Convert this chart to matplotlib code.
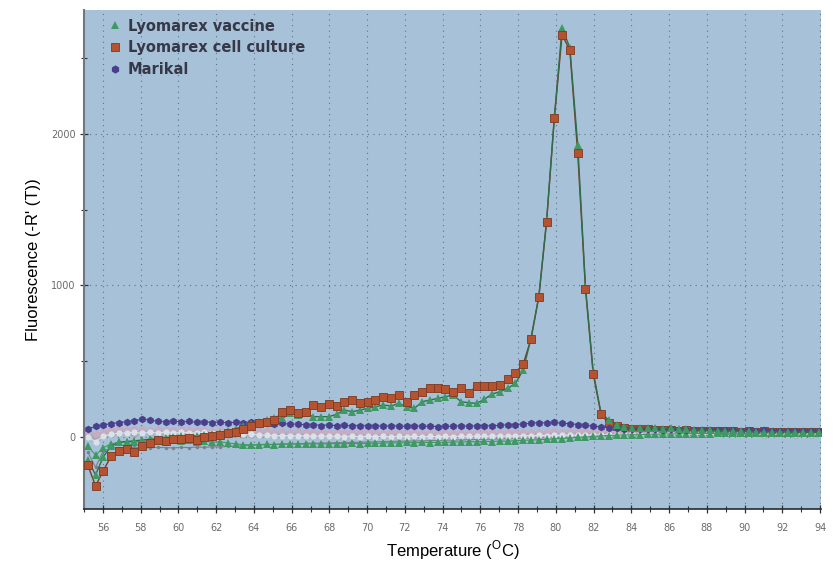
import numpy as np
import matplotlib
matplotlib.use("Agg")
import matplotlib.pyplot as plt
from matplotlib.lines import Line2D
from matplotlib.ticker import MultipleLocator

plt.rcParams['mathtext.fontset'] = 'custom'
plt.rcParams['mathtext.rm'] = 'Liberation Sans'

# Temperature grid (deg C), one reading every ~0.41 deg
temps = np.round(55.2 + 0.412 * np.arange(95), 2)

vaccine = [-150, -250, -130, -60, -35, -30, -25, -20, -15, -10,
           -5, 0, 5, 0, 10, 15, 20, 25, 40, 55,
           70, 85, 101, 112, 123, 123, 156, 145, 156, 134,
           134, 134, 150, 178, 167, 178, 189, 200, 211, 205,
           222, 200, 189, 233, 244, 255, 266, 277, 233, 226,
           222, 249, 284, 299, 321, 354, 442, 650, 930, 1430,
           2110, 2700, 2570, 1927, 990, 430, 160, 112, 80, 65,
           60, 62, 58, 60, 55, 57, 52, 50, 48, 45,
           44, 42, 40, 40, 38, 37, 36, 35, 35, 34,
           33, 32, 32, 31, 30]

cell_culture = [-185, -323, -222, -125, -90, -80, -97, -60, -40, -20,
                -25, -15, -10, -5, -20, 0, 5, 15, 25, 35,
                50, 70, 90, 100, 112, 167, 178, 160, 167, 211,
                200, 218, 205, 233, 244, 225, 233, 245, 266, 255,
                277, 233, 277, 300, 321, 321, 317, 297, 323, 290,
                337, 337, 337, 343, 380, 424, 482, 645, 926, 1421,
                2104, 2654, 2554, 1872, 975, 416, 152, 90, 70, 60,
                55, 50, 52, 48, 45, 47, 42, 44, 40, 42,
                38, 40, 37, 39, 36, 38, 35, 37, 34, 36,
                33, 35, 32, 34, 30]

marikal = [55, 70, 80, 88, 95, 100, 105, 120, 110, 105,
           100, 108, 98, 104, 96, 102, 95, 100, 92, 98,
           95, 100, 94, 92, 88, 90, 84, 86, 80, 82,
           76, 80, 74, 78, 72, 76, 72, 74, 70, 74,
           72, 70, 74, 70, 72, 68, 72, 70, 74, 70,
           74, 76, 72, 78, 80, 82, 86, 90, 95, 92,
           96, 90, 88, 82, 78, 72, 66, 62, 58, 55,
           52, 54, 50, 52, 48, 50, 47, 49, 46, 48,
           45, 47, 44, 46, 43, 45, 42, 44, 41, 43,
           40, 42, 39, 41, 38]

vaccine_low = [-60, -120, -70, -45, -35, -30, -35, -25, -30, -25,
               -30, -20, -25, -20, -30, -25, -35, -30, -40, -45,
               -50, -52, -50, -48, -50, -46, -48, -45, -47, -44,
               -46, -45, -43, -45, -42, -44, -40, -42, -40, -38,
               -40, -36, -38, -35, -37, -34, -36, -32, -34, -30,
               -32, -28, -30, -26, -28, -24, -22, -20, -18, -15,
               -12, -10, -6, -2, 0, 4, 8, 10, 12, 14,
               15, 16, 18, 18, 20, 20, 21, 22, 22, 23,
               23, 24, 24, 25, 25, 25, 26, 26, 26, 27,
               27, 27, 28, 28, 28]

ctrl_gray = [20, -10, 15, 25, 30, 32, 28, 34, 30, 35,
             28, 32, 30, 26, 30, 28, 24, 28, 22, 25,
             20, 22, 18, 20, 16, 18, 14, 18, 12, 16,
             14, 12, 16, 10, 14, 12, 10, 14, 12, 10,
             14, 12, 10, 14, 12, 14, 10, 14, 12, 15,
             12, 16, 14, 16, 14, 18, 16, 18, 20, 18,
             22, 20, 24, 22, 24, 22, 26, 24, 26, 24,
             28, 25, 27, 24, 28, 26, 25, 27, 24, 28,
             26, 25, 27, 24, 26, 25, 27, 23, 26, 24,
             25, 23, 25, 22, 24]

ctrl_pink = [30, 20, 35, 45, 50, 48, 52, 50, 46, 50,
             48, 45, 50, 46, 44, 48, 42, 45, 40, 44,
             40, 42, 38, 40, 36, 38, 35, 37, 33, 36,
             32, 35, 31, 34, 30, 33, 30, 32, 29, 32,
             30, 28, 31, 28, 30, 27, 30, 28, 31, 28,
             32, 30, 33, 31, 34, 32, 35, 33, 36, 34,
             38, 36, 40, 38, 42, 40, 38, 36, 35, 34,
             36, 33, 35, 32, 34, 33, 35, 32, 34, 31,
             33, 32, 34, 31, 33, 30, 32, 31, 33, 30,
             32, 29, 31, 30, 28]

ctrl_white = [0, -30, 5, 20, 25, 28, 30, 26, 30, 28,
              32, 26, 30, 28, 26, 30, 24, 28, 22, 25,
              20, 18, 15, 12, 10, 8, 10, 6, 8, 5,
              8, 4, 6, 3, 6, 2, 5, 2, 4, 1,
              4, 2, 5, 2, 4, 2, 5, 3, 6, 4,
              6, 5, 8, 6, 8, 7, 10, 8, 11, 10,
              12, 11, 13, 12, 14, 13, 15, 14, 16, 15,
              17, 16, 18, 17, 18, 17, 19, 18, 19, 18,
              20, 19, 20, 19, 21, 20, 21, 20, 22, 21,
              22, 21, 22, 21, 22]

ctrl_dark = [-100, -200, -90, -75, -70, -72, -68, -70, -72, -68,
             -70, -72, -68, -70, -66, -68, -64, -66, -62, -60,
             -58, -55, -52, -50, -48, -46, -45, -44, -42, -41,
             -40, -38, -37, -36, -35, -34, -33, -32, -30, -29,
             -28, -27, -26, -25, -24, -22, -21, -20, -19, -18,
             -16, -15, -14, -12, -11, -10, -8, -7, -6, -5,
             -4, -2, -1, 0, 1, 2, 3, 4, 5, 6,
             7, 8, 9, 10, 10, 11, 12, 12, 13, 13,
             14, 14, 15, 15, 16, 16, 16, 17, 17, 17,
             18, 18, 18, 18, 19]

labels = ["Lyomarex vaccine", "Lyomarex cell culture", "Marikal"]
x_ticks = list(range(56, 95, 2))
y_ticks = [0, 1000, 2000]

BG = '#A6C1D8'
GREEN = '#3E9A62'
GREEN_LINE = '#2E6E4C'
RED = '#B5522F'
RED_EDGE = '#7E3A22'
PURPLE = '#4A3F8C'

fig = plt.figure(figsize=(8.37, 5.66), dpi=100)
ax = fig.add_axes([0.1004, 0.1007, 0.9809 - 0.1004, 0.9823 - 0.1007])
ax.set_facecolor(BG)

t_arr = np.asarray(temps)
cc = np.asarray(cell_culture, dtype=float)
tail = t_arr > 82.6  # after the melt peak the red squares sit under the control band

# red curve tail (drawn beneath the controls)
ax.plot(t_arr, cc, color=RED_EDGE, lw=1.0, zorder=1.8)
ax.plot(t_arr[tail], cc[tail], ls='none', marker='s', ms=5.5, color=RED,
        markeredgecolor=RED_EDGE, markeredgewidth=0.6, zorder=1.9)

# background control curves
ax.plot(temps, ctrl_dark, color='#7C8088', lw=0.8, marker='o', ms=2.5,
        markeredgewidth=0, zorder=2)
ax.plot(temps, ctrl_gray, color='#A9A9AE', lw=1.0, marker='o', ms=6,
        markeredgewidth=0, zorder=2)
ax.plot(temps, ctrl_pink, color='#C7ABC2', lw=0.8, marker='o', ms=5,
        markeredgewidth=0, zorder=2.1)
ax.plot(temps, ctrl_white, color='#D9E1EA', lw=0.8, marker='o', ms=4.5,
        markeredgewidth=0, zorder=2.2)
ax.plot(temps, vaccine_low, color=GREEN, lw=0.8, marker='^', ms=5.5,
        markeredgewidth=0, zorder=2.5)
ax.plot(temps, marikal, color=PURPLE, lw=0.8, marker='h', ms=5.5,
        markeredgewidth=0, zorder=3)

# main curves
ax.plot(temps, vaccine, color=GREEN_LINE, lw=1.0, zorder=3.3)
ax.plot(temps, vaccine, ls='none', marker='^', ms=6, color=GREEN,
        markeredgewidth=0, zorder=4)
ax.plot(t_arr[~tail], cc[~tail], ls='none', marker='s', ms=5.5, color=RED,
        markeredgecolor=RED_EDGE, markeredgewidth=0.6, zorder=5)

ax.set_xlim(55.0, 94.05)
ax.set_ylim(-475, 2818)

ax.set_xticks(x_ticks)
ax.set_xticklabels([str(t) for t in x_ticks])
ax.xaxis.set_minor_locator(MultipleLocator(1))
ax.set_yticks(y_ticks)
ax.set_yticklabels([str(t) for t in y_ticks])
ax.yaxis.set_minor_locator(MultipleLocator(500))

ax.grid(True, which='major', color='#5E7388', ls=(0, (1, 4)), lw=0.8, zorder=1)
ax.set_axisbelow(True)

ax.tick_params(axis='both', which='major', direction='inout', length=6,
               width=0.9, color='#333333', labelsize=7, labelcolor='#6A6A6A')
ax.tick_params(axis='both', which='minor', direction='inout', length=4,
               width=0.8, color='#333333')
ax.tick_params(axis='x', which='major', pad=7)
ax.tick_params(axis='y', which='major', pad=3)

for s in ['top', 'right']:
    ax.spines[s].set_visible(False)
ax.spines['left'].set_color('#6F7780')
ax.spines['left'].set_linewidth(1.5)
ax.spines['bottom'].set_color('#2A2A2A')
ax.spines['bottom'].set_linewidth(1.2)

ax.set_xlabel(r'Temperature ($^{\mathrm{O}}$C)', fontsize=12,
              family='Liberation Sans', labelpad=4)
ax.set_ylabel("Fluorescence (-R' (T))", fontsize=12,
              family='Liberation Sans', labelpad=7)

handles = [
    Line2D([], [], ls='none', marker='^', ms=6, color=GREEN, markeredgewidth=0),
    Line2D([], [], ls='none', marker='s', ms=5.5, color=RED,
           markeredgecolor=RED_EDGE, markeredgewidth=0.6),
    Line2D([], [], ls='none', marker='h', ms=6, color=PURPLE, markeredgewidth=0),
]
leg = ax.legend(handles, labels, loc='upper left', bbox_to_anchor=(0.034, 0.983),
                frameon=False, prop={'weight': 'bold', 'size': 10.5},
                labelspacing=0.45, handlelength=0.8, handletextpad=0.5,
                borderaxespad=0, borderpad=0)
for t in leg.get_texts():
    t.set_color('#363848')

fig.savefig('out.png', dpi=100)
